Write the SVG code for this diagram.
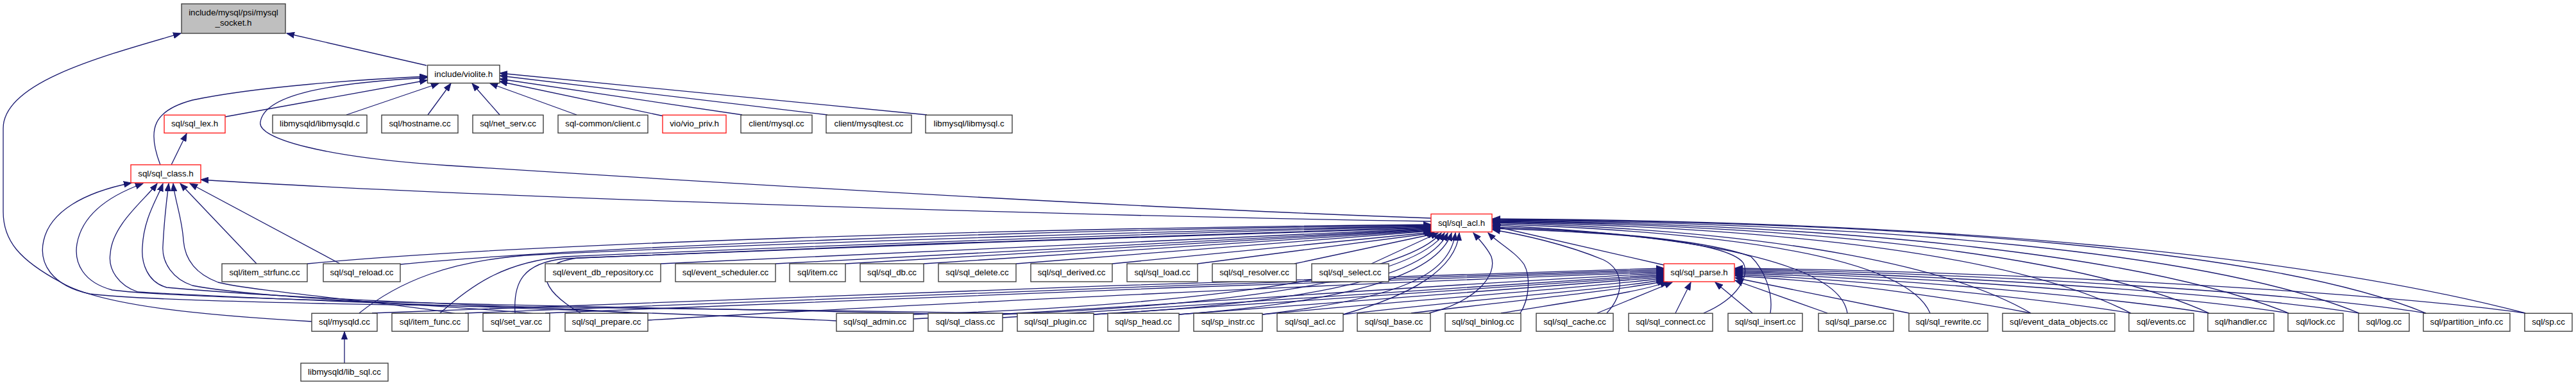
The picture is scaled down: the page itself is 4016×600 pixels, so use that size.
<svg xmlns="http://www.w3.org/2000/svg" width="4016" height="600" viewBox="0 0 4016 600">
<style>
.e{fill:none;stroke:#191970;stroke-width:1.3}
.n rect{fill:#fff;stroke:#404040;stroke-width:1.4}
.r rect{fill:#fff;stroke:#ff2020;stroke-width:1.4}
.g rect{fill:#bfbfbf;stroke:#404040;stroke-width:1.4}
text{font-family:"Liberation Sans",Arial,Helvetica,sans-serif;font-size:13.3px;fill:#000;text-anchor:middle}
</style>
<defs>
<marker id="a" markerWidth="13" markerHeight="10" refX="12" refY="5" orient="auto" markerUnits="userSpaceOnUse">
<path d="M0,0.4 L12,5 L0,9.6 z" fill="#191970" stroke="#191970" stroke-width="1"/>
</marker>
</defs>
<g id="edges" class="e" marker-end="url(#a)">
<path d="M665,102 L447,52" marker-end="url(#a)"/>
<path d="M486,501 C330,492 160,478 95,440 C30,405 5,375 5,330 L5,200 C5,130 150,90 282,52" marker-end="url(#a)"/>
<path d="M351,182 L666,125" marker-end="url(#a)"/>
<path d="M540,179 L684,130" marker-end="url(#a)"/>
<path d="M667,179 L703,130" marker-end="url(#a)"/>
<path d="M779,179 L736,130" marker-end="url(#a)"/>
<path d="M899,179 L764,130" marker-end="url(#a)"/>
<path d="M1035,181 L779,127" marker-end="url(#a)"/>
<path d="M1157,179 L779,123" marker-end="url(#a)"/>
<path d="M1290,179 L779,118" marker-end="url(#a)"/>
<path d="M1445,179 L779,114" marker-end="url(#a)"/>
<path d="M250,257 C228,200 240,172 300,156 C400,135 560,124 666,119" marker-end="url(#a)"/>
<path d="M2231,340 C1800,325 1200,290 700,258 C500,245 400,215 406,190 C412,150 500,130 666,121" marker-end="url(#a)"/>
<path d="M267,257 L291,208" marker-end="url(#a)"/>
<path d="M2231,345 C1600,335 700,305 313,280" marker-end="url(#a)"/>
<path d="M400,411 L281,286" marker-end="url(#a)"/>
<path d="M530,411 L296,286" marker-end="url(#a)"/>
<path d="M1590,489 C1200,480 300,478 140,458 C80,445 60,410 68,375 C78,330 130,300 205,285" marker-end="url(#a)"/>
<path d="M1452,489 C1100,480 320,470 175,452 C130,440 115,410 120,380 C128,335 170,305 223,286" marker-end="url(#a)"/>
<path d="M1304,500 C1000,485 500,472 215,455 C185,445 168,420 172,395 C175,350 225,312 245,286" marker-end="url(#a)"/>
<path d="M990,489 C900,478 500,470 260,448 C230,440 220,410 222,385 C224,340 245,310 254,286" marker-end="url(#a)"/>
<path d="M835,489 C700,475 400,465 300,445 C270,435 252,410 254,383 C256,340 260,310 263,286" marker-end="url(#a)"/>
<path d="M712,489 C620,472 400,455 340,440 C300,425 288,400 286,375 C284,340 272,310 270,286" marker-end="url(#a)"/>
<path d="M537,566 L537,517" marker-end="url(#a)"/>
<path d="M479,411 C800,380 1600,355 2231,350" marker-end="url(#a)"/>
<path d="M624,412 C900,385 1600,358 2231,351" marker-end="url(#a)"/>
<path d="M560,488 C620,440 700,405 836,397 C1300,375 1900,358 2231,352" marker-end="url(#a)"/>
<path d="M686,488 C740,440 790,408 880,400 C1300,382 1900,360 2231,353" marker-end="url(#a)"/>
<path d="M803,488 C800,440 815,410 880,403 C1300,385 1900,362 2231,354" marker-end="url(#a)"/>
<path d="M905,488 C840,450 830,412 900,402 C1300,386 1900,364 2231,355" marker-end="url(#a)"/>
<path d="M1030,411 L2231,356" marker-end="url(#a)"/>
<path d="M1209,411 L2231,357" marker-end="url(#a)"/>
<path d="M1318,411 L2231,358" marker-end="url(#a)"/>
<path d="M1440,411 L2231,359" marker-end="url(#a)"/>
<path d="M1584,411 L2231,360" marker-end="url(#a)"/>
<path d="M1734,411 L2233,362" marker-end="url(#a)"/>
<path d="M1867,411 L2236,363" marker-end="url(#a)"/>
<path d="M2018,411 L2238,364" marker-end="url(#a)"/>
<path d="M2138,411 L2242,363" marker-end="url(#a)"/>
<path d="M1424,490 C1800,478 2180,440 2247,363" marker-end="url(#a)"/>
<path d="M1563,490 C1900,476 2200,440 2252,363" marker-end="url(#a)"/>
<path d="M1705,490 C2000,474 2220,440 2257,363" marker-end="url(#a)"/>
<path d="M1838,490 C2100,470 2240,430 2263,363" marker-end="url(#a)"/>
<path d="M1968,490 C2180,465 2260,430 2269,363" marker-end="url(#a)"/>
<path d="M2094,490 C2200,460 2270,420 2275,363" marker-end="url(#a)"/>
<path d="M2228,488 C2300,470 2335,430 2325,400 C2318,385 2305,372 2297,363" marker-end="url(#a)"/>
<path d="M2370,488 C2385,465 2386,430 2376,412 C2362,392 2335,378 2320,363" marker-end="url(#a)"/>
<path d="M2505,488 C2535,455 2530,420 2500,405 C2440,380 2370,365 2327,358" marker-end="url(#a)"/>
<path d="M2656,488 C2710,465 2728,430 2718,410 C2690,370 2450,360 2327,356" marker-end="url(#a)"/>
<path d="M2760,488 C2765,455 2750,420 2730,400 C2650,370 2450,358 2327,354" marker-end="url(#a)"/>
<path d="M2594,413 L2327,352" marker-end="url(#a)"/>
<path d="M2880,488 C2870,420 2700,370 2327,351" marker-end="url(#a)"/>
<path d="M3009,488 C2980,420 2800,365 2327,349" marker-end="url(#a)"/>
<path d="M3166,488 C3050,420 2800,360 2327,347" marker-end="url(#a)"/>
<path d="M3322,488 C3150,400 2800,355 2327,346" marker-end="url(#a)"/>
<path d="M3444,488 C3250,400 2850,352 2327,345" marker-end="url(#a)"/>
<path d="M3568,488 C3350,400 2900,350 2327,344" marker-end="url(#a)"/>
<path d="M3678,488 C3450,395 2950,348 2327,343" marker-end="url(#a)"/>
<path d="M3782,488 C3550,392 3000,346 2327,342" marker-end="url(#a)"/>
<path d="M3937,488 C3600,400 3050,345 2327,341" marker-end="url(#a)"/>
<path d="M580,488 C1000,470 2000,435 2594,418" marker-end="url(#a)"/>
<path d="M725,488 C1100,470 2050,437 2594,420" marker-end="url(#a)"/>
<path d="M850,488 C1200,470 2100,438 2594,422" marker-end="url(#a)"/>
<path d="M1010,499 C1400,475 2150,440 2594,424" marker-end="url(#a)"/>
<path d="M1424,497 C1800,478 2250,442 2594,426" marker-end="url(#a)"/>
<path d="M1563,495 C1900,475 2300,444 2594,428" marker-end="url(#a)"/>
<path d="M1705,490 C2000,472 2350,446 2594,430" marker-end="url(#a)"/>
<path d="M1838,490 C2100,470 2400,448 2594,432" marker-end="url(#a)"/>
<path d="M1968,490 C2200,468 2450,450 2594,434" marker-end="url(#a)"/>
<path d="M2094,490 C2300,466 2500,452 2594,436" marker-end="url(#a)"/>
<path d="M2200,488 C2350,470 2530,452 2596,438" marker-end="url(#a)"/>
<path d="M2340,488 C2450,470 2560,455 2600,439" marker-end="url(#a)"/>
<path d="M2490,488 L2607,440" marker-end="url(#a)"/>
<path d="M2612,488 L2636,440" marker-end="url(#a)"/>
<path d="M2732,488 L2674,440" marker-end="url(#a)"/>
<path d="M2849,488 L2705,437" marker-end="url(#a)"/>
<path d="M2976,488 L2705,433" marker-end="url(#a)"/>
<path d="M3166,488 C3100,475 2900,440 2705,430" marker-end="url(#a)"/>
<path d="M3322,488 C3200,468 2900,435 2705,428" marker-end="url(#a)"/>
<path d="M3444,488 C3300,465 2950,432 2705,426" marker-end="url(#a)"/>
<path d="M3568,488 C3400,462 3000,430 2705,424" marker-end="url(#a)"/>
<path d="M3678,488 C3500,460 3050,428 2705,422" marker-end="url(#a)"/>
<path d="M3782,488 C3600,458 3100,426 2705,420" marker-end="url(#a)"/>
<path d="M3937,488 C3700,455 3150,424 2705,418" marker-end="url(#a)"/>
</g>
<g id="n_root" class="g"><rect x="283" y="6" width="162" height="46"/><text x="364" y="23.5">include/mysql/psi/mysql</text><text x="364" y="39.5">_socket.h</text></g>
<g id="n_violite" class="n"><rect x="666.5" y="101.5" width="112.5" height="28"/><text x="722.75" y="119.5">include/violite.h</text></g>
<g id="n_sql_lex_h" class="r"><rect x="256" y="179.3" width="95" height="28"/><text x="303.5" y="197.3">sql/sql_lex.h</text></g>
<g id="n_libmysqld_c" class="n"><rect x="425" y="179.3" width="147" height="28"/><text x="498.5" y="197.3">libmysqld/libmysqld.c</text></g>
<g id="n_hostname" class="n"><rect x="595" y="179.3" width="119" height="28"/><text x="654.5" y="197.3">sql/hostname.cc</text></g>
<g id="n_net_serv" class="n"><rect x="737" y="179.3" width="110" height="28"/><text x="792" y="197.3">sql/net_serv.cc</text></g>
<g id="n_client_c" class="n"><rect x="870" y="179.3" width="140" height="28"/><text x="940" y="197.3">sql-common/client.c</text></g>
<g id="n_vio_priv" class="r"><rect x="1033" y="179.3" width="99" height="28"/><text x="1082.5" y="197.3">vio/vio_priv.h</text></g>
<g id="n_mysql_cc" class="n"><rect x="1155" y="179.3" width="111" height="28"/><text x="1210.5" y="197.3">client/mysql.cc</text></g>
<g id="n_mysqltest" class="n"><rect x="1288" y="179.3" width="133" height="28"/><text x="1354.5" y="197.3">client/mysqltest.cc</text></g>
<g id="n_libmysql_c" class="n"><rect x="1443" y="179.3" width="135" height="28"/><text x="1510.5" y="197.3">libmysql/libmysql.c</text></g>
<g id="n_sql_class_h" class="r"><rect x="204" y="256.8" width="109" height="28"/><text x="258.5" y="274.8">sql/sql_class.h</text></g>
<g id="n_sql_acl_h" class="r"><rect x="2231" y="333.5" width="95" height="28"/><text x="2278.5" y="351.5">sql/sql_acl.h</text></g>
<g id="n_item_strfunc" class="n"><rect x="346" y="411" width="133" height="28"/><text x="412.5" y="429">sql/item_strfunc.cc</text></g>
<g id="n_sql_reload" class="n"><rect x="504" y="411" width="120" height="28"/><text x="564" y="429">sql/sql_reload.cc</text></g>
<g id="n_event_db_repository" class="n"><rect x="850" y="411" width="180" height="28"/><text x="940" y="429">sql/event_db_repository.cc</text></g>
<g id="n_event_scheduler" class="n"><rect x="1053" y="411" width="156" height="28"/><text x="1131" y="429">sql/event_scheduler.cc</text></g>
<g id="n_item" class="n"><rect x="1231" y="411" width="87" height="28"/><text x="1274.5" y="429">sql/item.cc</text></g>
<g id="n_sql_db" class="n"><rect x="1341" y="411" width="99" height="28"/><text x="1390.5" y="429">sql/sql_db.cc</text></g>
<g id="n_sql_delete" class="n"><rect x="1463" y="411" width="121" height="28"/><text x="1523.5" y="429">sql/sql_delete.cc</text></g>
<g id="n_sql_derived" class="n"><rect x="1607" y="411" width="127" height="28"/><text x="1670.5" y="429">sql/sql_derived.cc</text></g>
<g id="n_sql_load" class="n"><rect x="1757" y="411" width="110" height="28"/><text x="1812" y="429">sql/sql_load.cc</text></g>
<g id="n_sql_resolver" class="n"><rect x="1890" y="411" width="131" height="28"/><text x="1955.5" y="429">sql/sql_resolver.cc</text></g>
<g id="n_sql_select" class="n"><rect x="2045" y="411" width="120" height="28"/><text x="2105" y="429">sql/sql_select.cc</text></g>
<g id="n_sql_parse_h" class="r"><rect x="2594" y="411" width="110" height="28"/><text x="2649" y="429">sql/sql_parse.h</text></g>
<g id="n_mysqld" class="n"><rect x="486" y="488.3" width="102" height="28"/><text x="537" y="506.3">sql/mysqld.cc</text></g>
<g id="n_item_func" class="n"><rect x="611" y="488.3" width="119" height="28"/><text x="670.5" y="506.3">sql/item_func.cc</text></g>
<g id="n_set_var" class="n"><rect x="753" y="488.3" width="104" height="28"/><text x="805" y="506.3">sql/set_var.cc</text></g>
<g id="n_sql_prepare" class="n"><rect x="881" y="488.3" width="129" height="28"/><text x="945.5" y="506.3">sql/sql_prepare.cc</text></g>
<g id="n_sql_admin" class="n"><rect x="1304" y="488.3" width="120" height="28"/><text x="1364" y="506.3">sql/sql_admin.cc</text></g>
<g id="n_sql_class_cc" class="n"><rect x="1447" y="488.3" width="116" height="28"/><text x="1505" y="506.3">sql/sql_class.cc</text></g>
<g id="n_sql_plugin" class="n"><rect x="1586" y="488.3" width="119" height="28"/><text x="1645.5" y="506.3">sql/sql_plugin.cc</text></g>
<g id="n_sp_head" class="n"><rect x="1727" y="488.3" width="111" height="28"/><text x="1782.5" y="506.3">sql/sp_head.cc</text></g>
<g id="n_sp_instr" class="n"><rect x="1861" y="488.3" width="107" height="28"/><text x="1914.5" y="506.3">sql/sp_instr.cc</text></g>
<g id="n_sql_acl_cc" class="n"><rect x="1991" y="488.3" width="103" height="28"/><text x="2042.5" y="506.3">sql/sql_acl.cc</text></g>
<g id="n_sql_base" class="n"><rect x="2116" y="488.3" width="114" height="28"/><text x="2173" y="506.3">sql/sql_base.cc</text></g>
<g id="n_sql_binlog" class="n"><rect x="2253" y="488.3" width="118" height="28"/><text x="2312" y="506.3">sql/sql_binlog.cc</text></g>
<g id="n_sql_cache" class="n"><rect x="2395" y="488.3" width="120" height="28"/><text x="2455" y="506.3">sql/sql_cache.cc</text></g>
<g id="n_sql_connect" class="n"><rect x="2539" y="488.3" width="131" height="28"/><text x="2604.5" y="506.3">sql/sql_connect.cc</text></g>
<g id="n_sql_insert" class="n"><rect x="2694" y="488.3" width="116" height="28"/><text x="2752" y="506.3">sql/sql_insert.cc</text></g>
<g id="n_sql_parse_cc" class="n"><rect x="2835" y="488.3" width="117" height="28"/><text x="2893.5" y="506.3">sql/sql_parse.cc</text></g>
<g id="n_sql_rewrite" class="n"><rect x="2976" y="488.3" width="123" height="28"/><text x="3037.5" y="506.3">sql/sql_rewrite.cc</text></g>
<g id="n_event_data_objects" class="n"><rect x="3122" y="488.3" width="175" height="28"/><text x="3209.5" y="506.3">sql/event_data_objects.cc</text></g>
<g id="n_events" class="n"><rect x="3319" y="488.3" width="101" height="28"/><text x="3369.5" y="506.3">sql/events.cc</text></g>
<g id="n_handler" class="n"><rect x="3442" y="488.3" width="103" height="28"/><text x="3493.5" y="506.3">sql/handler.cc</text></g>
<g id="n_lock" class="n"><rect x="3567" y="488.3" width="86" height="28"/><text x="3610" y="506.3">sql/lock.cc</text></g>
<g id="n_log" class="n"><rect x="3677" y="488.3" width="79" height="28"/><text x="3716.5" y="506.3">sql/log.cc</text></g>
<g id="n_partition_info" class="n"><rect x="3778" y="488.3" width="135" height="28"/><text x="3845.5" y="506.3">sql/partition_info.cc</text></g>
<g id="n_sp" class="n"><rect x="3936" y="488.3" width="74" height="28"/><text x="3973" y="506.3">sql/sp.cc</text></g>
<g id="n_lib_sql" class="n"><rect x="469" y="566" width="136" height="28"/><text x="537" y="584">libmysqld/lib_sql.cc</text></g>
</svg>
